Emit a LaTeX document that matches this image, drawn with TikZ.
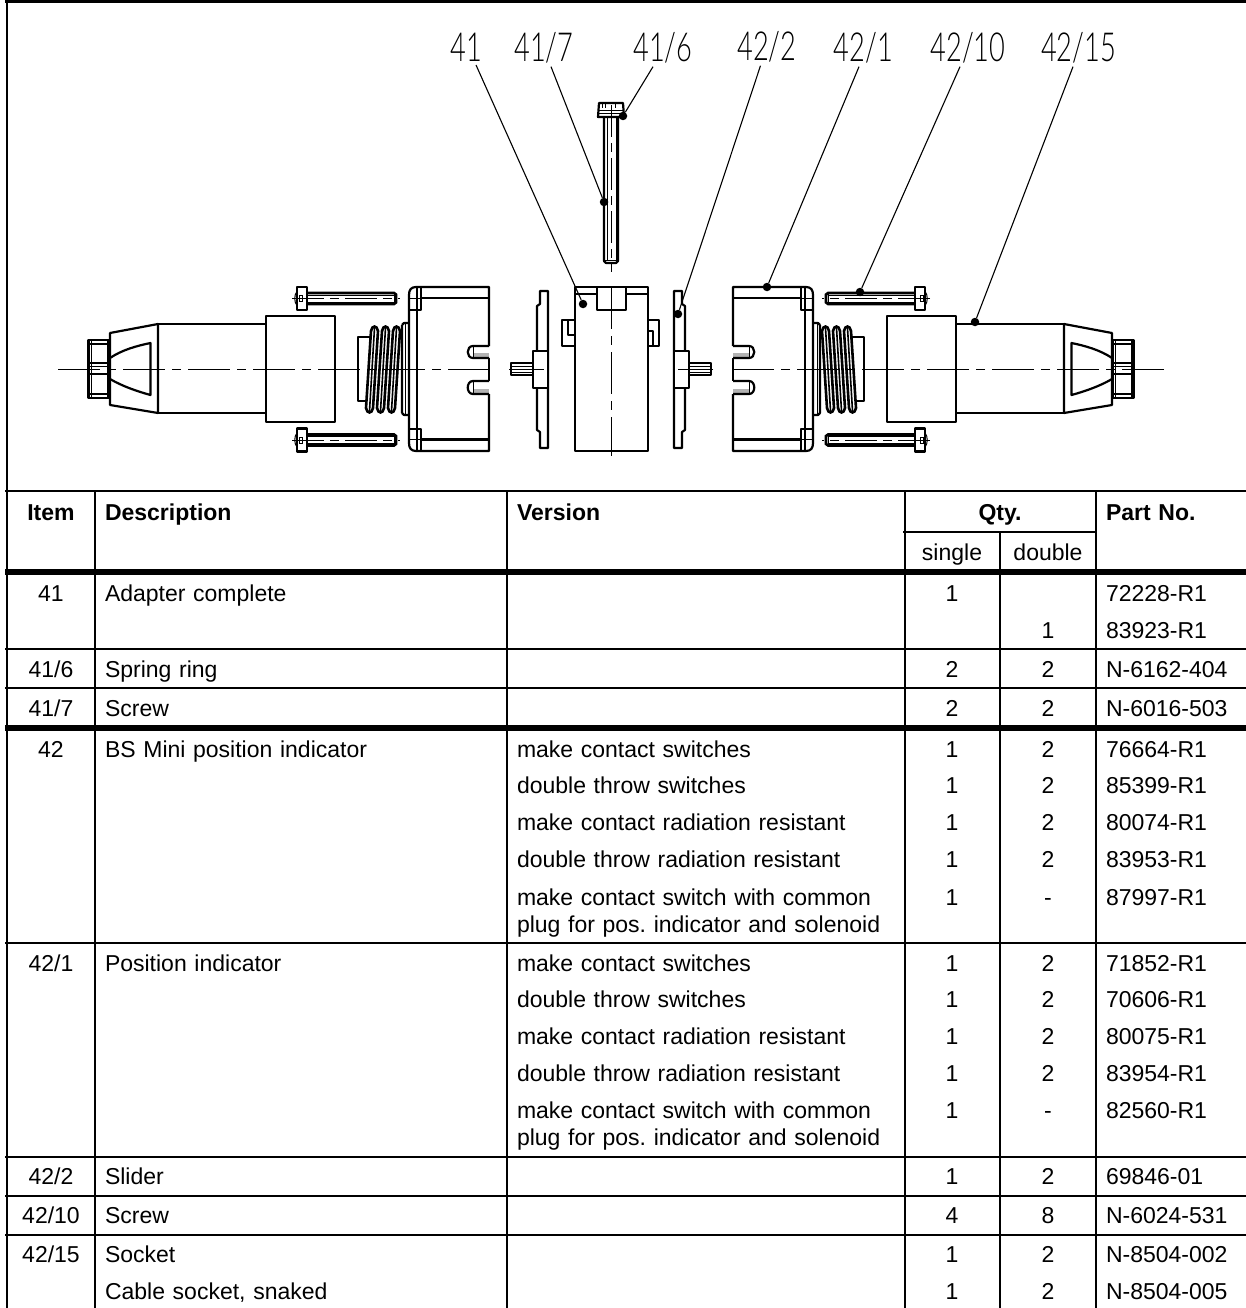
\documentclass[tikz,border=0pt]{standalone}
\usepackage{fontspec}
\setmainfont{Liberation Sans}
\newfontfamily\calloutfont[FakeStretch=0.68,UprightFont=* Light]{Lato}
\usetikzlibrary{positioning}
\frenchspacing

\tikzset{
  part/.style={line width=2.2pt,line join=round},
  fine/.style={line width=1pt},
  axisline/.style={line width=1pt,dash pattern=on 42pt off 7pt on 9pt off 7pt},
  screwaxis/.style={line width=1pt,dash pattern=on 32pt off 6pt on 9pt off 6pt},
  rule/.style={line width=2.6pt},
  heavy/.style={line width=5.5pt},
  leader/.style={line width=1.1pt},
  dot/.style={circle,fill=black,inner sep=0pt,minimum size=8.5pt},
  callout/.style={font=\calloutfont\fontsize{40}{40}\selectfont,inner sep=0pt,outer sep=3pt,anchor=base},
  cell/.style={font=\fontsize{23}{23}\selectfont,inner sep=0pt,text height=17pt,text depth=5pt},
  head/.style={font=\fontsize{23}{23}\bfseries\selectfont},
  itemno/.style={cell,text width=80pt,align=center},
  desc/.style={cell,text width=390pt,align=left},
  vers/.style={cell,text width=380pt,align=left},
  qsingle/.style={cell,text width=90pt,align=center},
  qdouble/.style={cell,text width=90pt,align=center},
  partno/.style={cell,text width=140pt,align=left},
  hscrew/.pic={
    \draw[part,fill=white] (297,-11.5) rectangle (307,11.5);
    \draw[fine] (297,-7) .. controls (294,-4) and (294,4) .. (297,7);
    \draw[fine] (299,-3) rectangle (302,3);
    \draw[line width=2.6pt] (307,-5.5) -- (394,-5.5) -- (396,-4) -- (396,4) -- (394,5.5) -- (307,5.5);
    \draw[fine] (307,-3.5) -- (394,-3.5) (307,3.5) -- (394,3.5) (394,-5.5) -- (394,5.5);
    \draw[screwaxis] (292,0) -- (400,0);
  },
  coil/.pic={
    \draw[line width=2.6pt,fill=white] (371,331) .. controls (372,325) and (377,325) .. (378,331) -- (373,408) .. controls (372,414) and (367,414) .. (366,408) -- cycle;
    \draw[line width=1.6pt] (374.5,328) -- (369.5,411);
  }
}

% one side of the assembly, drawn on the left and mirrored for the right
\newcommand{\halfset}{
  % cable nut
  \draw[part] (88.5,340) rectangle (109,398);
  \draw[fine] (91,340) -- (91,398) (107,340) -- (107,398);
  \draw[part] (88.5,344) -- (109,344) (88.5,394) -- (109,394);
  \draw[part] (88.5,363) -- (109,363) (88.5,374) -- (109,374);
  \draw[fine] (88.5,366) -- (109,366);
  \draw[fine] (109,342) -- (111,342) (109,396) -- (111,396);
  % cone and window
  \draw[part] (110,333) -- (158,324) -- (158,413) -- (110,405) -- cycle;
  \draw[part] (110,358) .. controls (122,350) and (136,346) .. (150.5,343) -- (150.5,395) .. controls (136,391) and (122,386) .. (110,379);
  % socket barrel and sleeve
  \draw[part] (158,324) -- (266,324) (158,413) -- (266,413);
  \draw[part] (266,316) rectangle (335,422);
  % thread end and coils
  \draw[part] (372,337) -- (358,337) -- (358,401) -- (370,401);
  \pic[transform shape] at (0,0) {coil};
  \pic[transform shape] at (11,0) {coil};
  \pic[transform shape] at (22,0) {coil};
  \draw[part] (402,325) -- (404,323) -- (409,323) (402,413) -- (404,415) -- (409,415) (402,325) -- (402,413);
  \draw[fine] (405,323) -- (405,415);
  % cover
  \draw[part] (489,346) -- (489,287) -- (416,287) .. controls (411,287) and (409,290) .. (409,295) -- (409,443) .. controls (409,448) and (411,451) .. (416,451) -- (489,451) -- (489,394);
  \draw[part] (489,358) -- (489,381);
  \draw[part] (417,287) -- (417,451);
  \draw[part] (421,287) -- (421,310) -- (409,310) (421,451) -- (421,429) -- (409,429);
  \draw[part] (421,298) -- (489,298) (421,439.5) -- (489,439.5);
  \draw[fine] (409,298) -- (421,298) (409,439.5) -- (421,439.5);
  \fill[gray!60] (473,353) rectangle (489,358);
  \fill[gray!60] (473,389) rectangle (489,394);
  \draw[part] (489,346) -- (473,346) .. controls (466,346) and (466,358) .. (473,358) -- (489,358);
  \draw[part] (489,381) -- (473,381) .. controls (466,381) and (466,394) .. (473,394) -- (489,394);
  \draw[fine] (473,346) -- (473,358) (473,381) -- (473,394);
  % screws
  \pic[transform shape] at (0,298.5) {hscrew};
  \pic[transform shape] at (0,440) {hscrew};
  % slider
  \draw[part] (540,291) -- (548,291) -- (548,448) -- (540,448) -- (540,432) -- (537,430) -- (537,306) -- (540,304) -- cycle;
  \draw[part,fill=white] (533,351) rectangle (548,388);
  \draw[part] (511,363) rectangle (533,375);
  \draw[fine] (511,366) -- (533,366) (511,372) -- (533,372);
  \draw[fine] (509,369) -- (544,369);
  % axis
  \draw[axisline] (58,369) -- (495,369);
}

\begin{document}
\begin{tikzpicture}[x=1pt,y=-1pt,on grid]
    \useasboundingbox (0,0) rectangle (1246,1308);

    % frame and table rules
    \draw[rule] (5,1.5) -- (1246,1.5);
    \draw[rule] (7,1.5) -- (7,1308);
    \draw[rule] (5,491) -- (1246,491);
    \draw[rule] (903,532) -- (1096,532);
    \draw[heavy] (5,572) -- (1246,572);
    \draw[rule] (5,649) -- (1246,649);
    \draw[rule] (5,688) -- (1246,688);
    \draw[heavy] (5,728) -- (1246,728);
    \draw[rule] (5,943) -- (1246,943);
    \draw[rule] (5,1157) -- (1246,1157);
    \draw[rule] (5,1196) -- (1246,1196);
    \draw[rule] (5,1235) -- (1246,1235);
    \draw[rule] (95,491) -- (95,1308);
    \draw[rule] (507,491) -- (507,1308);
    \draw[rule] (905,491) -- (905,1308);
    \draw[rule] (1000,532) -- (1000,1308);
    \draw[rule] (1096,491) -- (1096,1308);

    % left and right side of the assembly
    \halfset
    \begin{scope}[shift={(1222,0)},xscale=-1]
      \halfset
    \end{scope}

    % adapter body
    \draw[part] (575,287) rectangle (648,451);
    \draw[part] (597,287) -- (597,310) -- (626,310) -- (626,287);
    \draw[part] (575,294) -- (597,294) (626,294) -- (648,294);
    \draw[part] (575,320) -- (562,320) -- (562,346) -- (575,346);
    \draw[part] (568,320) -- (568,335) -- (575,335);
    \draw[part] (648,320) -- (659,320) -- (659,346) -- (648,346);
    \draw[part] (648,331) -- (653,331) -- (653,346);
    \draw[axisline] (611.3,287) -- (611.3,456);

    % upright screw
    \draw[part] (599,103) -- (623,103) -- (624,117) -- (598,117) -- cycle;
    \draw[fine] (598.5,111) -- (623.5,111) (598.5,114) -- (623.5,114);
    \draw[fine] (602,104) -- (602,108) (605,104) -- (605,108) (615,104) -- (615,108);
    \draw[part] (604,117) -- (604,261) -- (606,263) -- (616,263) -- (618,261) -- (618,117);
    \draw[fine] (607,117) -- (607,260) (616,117) -- (616,260) (604,260) -- (618,260);
    \draw[screwaxis] (611.3,105) -- (611.3,272);

    % callouts
    \node[callout] (l41) at (466.5,62) {41};
    \node[callout] (l417) at (544,62) {41/7};
    \node[callout] (l416) at (663,62) {41/6};
    \node[callout] (l422) at (767,61) {42/2};
    \node[callout] (l421) at (863.5,62) {42/1};
    \node[callout] (l4210) at (968,62) {42/10};
    \node[callout] (l4215) at (1078.5,62) {42/15};

    \node[dot] (d41) at (583,304) {};
    \node[dot] (d417) at (604,202) {};
    \node[dot] (d416) at (623,116) {};
    \node[dot] (d422) at (678,314) {};
    \node[dot] (d421) at (767,287) {};
    \node[dot] (d4210) at (860,292) {};
    \node[dot] (d4215) at (975,322) {};

    \path[leader]
    ([xshift=9.5pt]l41.south) edge (d41)
    ([xshift=7pt]l417.south) edge (d417)
    ([xshift=-10pt]l416.south) edge (d416)
    ([xshift=-6.5pt]l422.south) edge (d422)
    ([xshift=-4.5pt]l421.south) edge (d421)
    ([xshift=-8pt]l4210.south) edge (d4210)
    ([xshift=-5.5pt]l4215.south) edge (d4215)
    ;

    % table head
    \node[itemno,head] (hitem) at (51,514) {Item};
    \node[desc,head] (hdesc) [right = 249pt of hitem] {Description};
    \node[vers,head] (hvers) [right = 656pt of hitem] {Version};
    \node[qsingle,head] (hqty) [right = 949pt of hitem] {Qty.};
    \node[partno,head] (hpart) [right = 1125pt of hitem] {Part No.};
    \node[qsingle] (hsingle) at (952,554) {single};
    \node[qdouble] (hdouble) [right = 96pt of hsingle] {double};

    % rows of 41
    \node[itemno] (i41) at (51,595) {41};
    \node[desc] (t41) [right = 249pt of i41] {Adapter complete};
    \node[qsingle] (s41) [right = 901pt of i41] {1};
    \node[partno] (p41) [right = 1125pt of i41] {72228-R1};
    \node[qdouble] (w41) at (1048,632) {1};
    \node[partno] (p41b) [right = 128pt of w41] {83923-R1};

    \node[itemno] (i416) at (51,671) {41/6};
    \node[desc] (t416) [right = 249pt of i416] {Spring ring};
    \node[qsingle] (s416) [right = 901pt of i416] {2};
    \node[qdouble] (w416) [right = 997pt of i416] {2};
    \node[partno] (p416) [right = 1125pt of i416] {N-6162-404};

    \node[itemno] (i417) at (51,710) {41/7};
    \node[desc] (t417) [right = 249pt of i417] {Screw};
    \node[qsingle] (s417) [right = 901pt of i417] {2};
    \node[qdouble] (w417) [right = 997pt of i417] {2};
    \node[partno] (p417) [right = 1125pt of i417] {N-6016-503};

    % rows of 42
    \node[itemno] (i42) at (51,751) {42};
    \node[desc] (t42) [right = 249pt of i42] {BS Mini position indicator};
    \node[vers] (v42a) [right = 656pt of i42] {make contact switches};
    \node[qsingle] (s42a) [right = 901pt of i42] {1};
    \node[qdouble] (w42a) [right = 997pt of i42] {2};
    \node[partno] (p42a) [right = 1125pt of i42] {76664-R1};

    \node[vers] (v42b) at (707,787) {double throw switches};
    \node[qsingle] (s42b) [right = 245pt of v42b] {1};
    \node[qdouble] (w42b) [right = 341pt of v42b] {2};
    \node[partno] (p42b) [right = 469pt of v42b] {85399-R1};

    \node[vers] (v42c) at (707,824) {make contact radiation resistant};
    \node[qsingle] (s42c) [right = 245pt of v42c] {1};
    \node[qdouble] (w42c) [right = 341pt of v42c] {2};
    \node[partno] (p42c) [right = 469pt of v42c] {80074-R1};

    \node[vers] (v42d) at (707,861) {double throw radiation resistant};
    \node[qsingle] (s42d) [right = 245pt of v42d] {1};
    \node[qdouble] (w42d) [right = 341pt of v42d] {2};
    \node[partno] (p42d) [right = 469pt of v42d] {83953-R1};

    \node[vers] (v42e) at (707,899) {make contact switch with common};
    \node[vers] (v42f) at (707,926) {plug for pos. indicator and solenoid};
    \node[qsingle] (s42e) [right = 245pt of v42e] {1};
    \node[qdouble] (w42e) [right = 341pt of v42e] {-};
    \node[partno] (p42e) [right = 469pt of v42e] {87997-R1};

    % rows of 42/1
    \node[itemno] (i421) at (51,965) {42/1};
    \node[desc] (t421) [right = 249pt of i421] {Position indicator};
    \node[vers] (v421a) [right = 656pt of i421] {make contact switches};
    \node[qsingle] (s421a) [right = 901pt of i421] {1};
    \node[qdouble] (w421a) [right = 997pt of i421] {2};
    \node[partno] (p421a) [right = 1125pt of i421] {71852-R1};

    \node[vers] (v421b) at (707,1001) {double throw switches};
    \node[qsingle] (s421b) [right = 245pt of v421b] {1};
    \node[qdouble] (w421b) [right = 341pt of v421b] {2};
    \node[partno] (p421b) [right = 469pt of v421b] {70606-R1};

    \node[vers] (v421c) at (707,1038) {make contact radiation resistant};
    \node[qsingle] (s421c) [right = 245pt of v421c] {1};
    \node[qdouble] (w421c) [right = 341pt of v421c] {2};
    \node[partno] (p421c) [right = 469pt of v421c] {80075-R1};

    \node[vers] (v421d) at (707,1075) {double throw radiation resistant};
    \node[qsingle] (s421d) [right = 245pt of v421d] {1};
    \node[qdouble] (w421d) [right = 341pt of v421d] {2};
    \node[partno] (p421d) [right = 469pt of v421d] {83954-R1};

    \node[vers] (v421e) at (707,1112) {make contact switch with common};
    \node[vers] (v421f) at (707,1139) {plug for pos. indicator and solenoid};
    \node[qsingle] (s421e) [right = 245pt of v421e] {1};
    \node[qdouble] (w421e) [right = 341pt of v421e] {-};
    \node[partno] (p421e) [right = 469pt of v421e] {82560-R1};

    % remaining rows
    \node[itemno] (i422) at (51,1178) {42/2};
    \node[desc] (t422) [right = 249pt of i422] {Slider};
    \node[qsingle] (s422) [right = 901pt of i422] {1};
    \node[qdouble] (w422) [right = 997pt of i422] {2};
    \node[partno] (p422) [right = 1125pt of i422] {69846-01};

    \node[itemno] (i4210) at (51,1217) {42/10};
    \node[desc] (t4210) [right = 249pt of i4210] {Screw};
    \node[qsingle] (s4210) [right = 901pt of i4210] {4};
    \node[qdouble] (w4210) [right = 997pt of i4210] {8};
    \node[partno] (p4210) [right = 1125pt of i4210] {N-6024-531};

    \node[itemno] (i4215) at (51,1256) {42/15};
    \node[desc] (t4215) [right = 249pt of i4215] {Socket};
    \node[qsingle] (s4215) [right = 901pt of i4215] {1};
    \node[qdouble] (w4215) [right = 997pt of i4215] {2};
    \node[partno] (p4215) [right = 1125pt of i4215] {N-8504-002};

    \node[desc] (t4215b) at (300,1293) {Cable socket, snaked};
    \node[qsingle] (s4215b) [right = 652pt of t4215b] {1};
    \node[qdouble] (w4215b) [right = 748pt of t4215b] {2};
    \node[partno] (p4215b) [right = 876pt of t4215b] {N-8504-005};
\end{tikzpicture}
\end{document}
